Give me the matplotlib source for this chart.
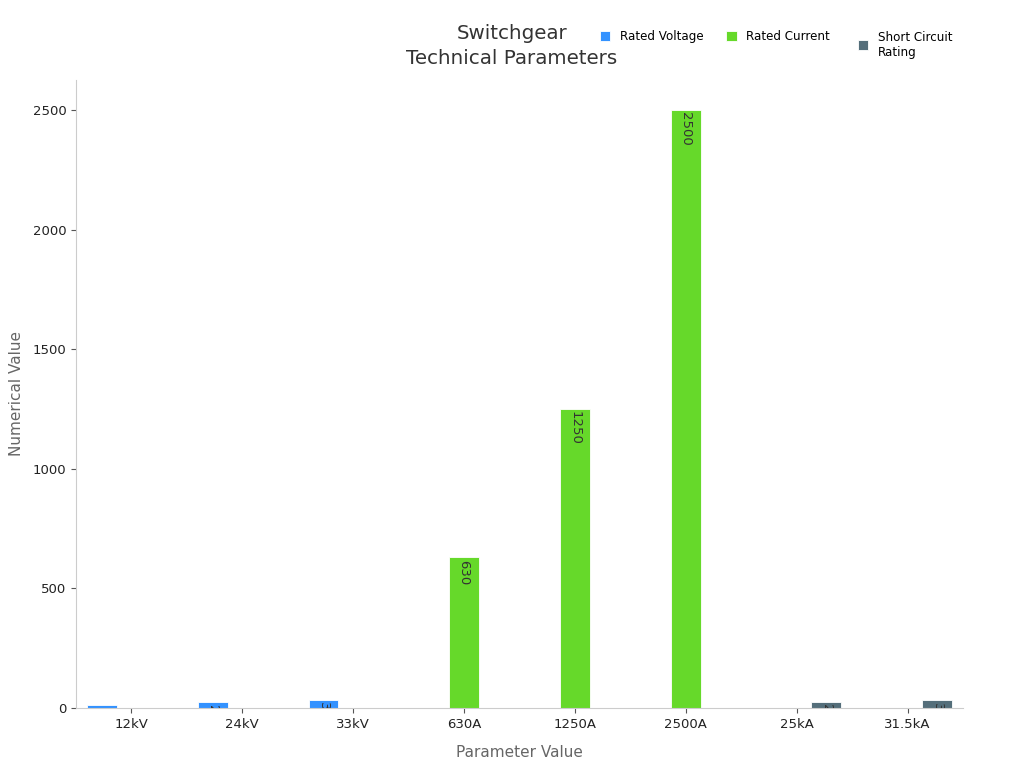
import numpy as np
import matplotlib.pyplot as plt

categories = ['12kV', '24kV', '33kV', '630A', '1250A', '2500A', '25kA', '31.5kA']
rated_voltage = [12, 24, 33, 0, 0, 0, 0, 0]
rated_current = [0, 0, 0, 630, 1250, 2500, 0, 0]
short_circuit = [0, 0, 0, 0, 0, 0, 25, 31.5]
series_names = ['Rated Voltage', 'Rated Current', 'Short Circuit\nRating']
colors = ['#3392FF', '#66D92A', '#546E7A']

fig = plt.figure(figsize=(10.24, 7.68), dpi=100)
ax = fig.add_axes([76 / 1024, 60 / 768, 887 / 1024, 628 / 768])

x = np.arange(len(categories))
w = 0.8 / 3
handles = []
for i, (vals, name, c) in enumerate(zip([rated_voltage, rated_current, short_circuit], series_names, colors)):
	bars = ax.bar(x + (i - 1) * w, vals, w, color=c, edgecolor='white', linewidth=0.6, label=name)
	handles.append(bars)
	for b, v in zip(bars, vals):
		if v <= 0:
			continue
		t = ax.text(b.get_x() + b.get_width() / 2, v - 10, '%g' % v, rotation=270,
			ha='center', va='top', fontsize=9.5, color='#333333', clip_on=True)
		t.set_clip_path(b)

ax.set_xlim(-0.5, 7.5)
ax.set_ylim(0, 2625)
ax.set_xticks(x)
ax.set_xticklabels(categories)
ax.set_yticks([0, 500, 1000, 1500, 2000, 2500])
ax.tick_params(labelsize=9.5, colors='#222222')
ax.tick_params(color='#555555')
for s in ['top', 'right']:
	ax.spines[s].set_visible(False)
for s in ['left', 'bottom']:
	ax.spines[s].set_color('#cccccc')
ax.set_xlabel('Parameter Value', fontsize=11, color='#666666', labelpad=10)
ax.set_ylabel('Numerical Value', fontsize=11, color='#666666', labelpad=6)

fig.text(0.5, 0.94, 'Switchgear\nTechnical Parameters', ha='center', va='center',
	fontsize=14.3, color='#333333', linespacing=1.4)

# two legends so the one-line entries sit level with the first line of the last one
leg1 = fig.legend(handles[:2], series_names[:2], loc='center left', bbox_to_anchor=(0.575, 0.952),
	ncol=2, frameon=False, fontsize=8.6, handlelength=0.9, handleheight=0.9, columnspacing=1.9)
fig.legend(handles[2:], series_names[2:], loc='center left', bbox_to_anchor=(0.827, 0.942),
	frameon=False, fontsize=8.6, handlelength=0.9, handleheight=0.9)

fig.savefig('out.png', dpi=100)
